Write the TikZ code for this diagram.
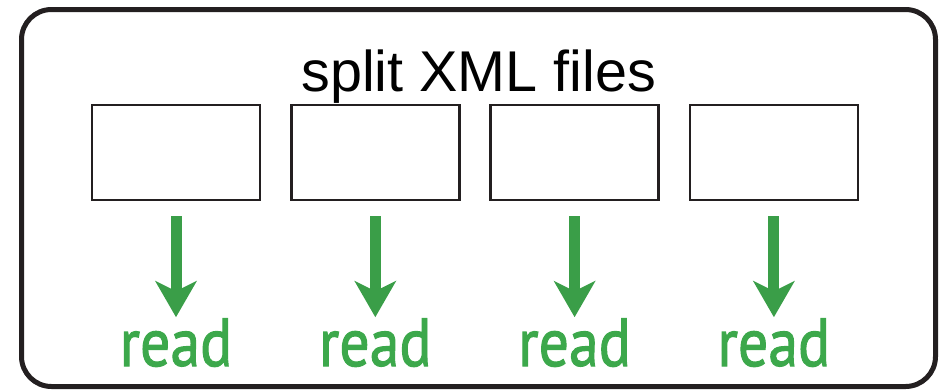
\documentclass[tikz,border=0pt]{standalone}
\usepackage{fontspec}
\usepackage{graphicx}
\usepackage{tikz}
\usetikzlibrary{arrows.meta}
\usetikzlibrary{positioning}
\setmainfont{Liberation Sans}
\newfontfamily\readfont[FakeBold=1.6]{PT Sans}
\definecolor{readgreen}{RGB}{58,158,72}
\definecolor{textgreen}{RGB}{60,168,75}
\definecolor{framegray}{RGB}{35,31,32}
\tikzset{
    frame/.style={
        draw=framegray,
        line width=5pt,
        rounded corners=30pt,
        minimum width=914pt,
        minimum height=377pt,
        inner sep=0pt
    },
    filebox/.style={
        draw=framegray,
        line width=2.5pt,
        minimum width=168pt,
        minimum height=95pt,
        inner sep=0pt
    }
}

\begin{document}
\begin{tikzpicture}[x=1pt,y=-1pt]
  \tikzset{
    title/.style={
      anchor=base,
      inner sep=0pt,
      font=\fontsize{57.5}{62}\selectfont
    },
    readlabel/.style={
      anchor=base,
      inner sep=0pt,
      text=textgreen,
      font=\readfont\fontsize{68}{72}\selectfont
    },
    flow/.style={
      draw=readgreen,
      line width=11pt,
      -{Stealth[length=36pt, width=41pt, inset=10pt]},
      shorten <=15pt,
      shorten >=1pt
    }
  }
  \useasboundingbox (0,0) rectangle (944,389);

  % Outer frame
  \node[frame] (frame) at (478.5,198) {};
  \node[title] (title) at (478.7,91.7) {split XML files};

  % Files and read arrows
  \foreach \i in {1,...,4} {
    \node[filebox] (f\i) at ({176+199.3*(\i-1)},152.5) {};
    \node[readlabel] (r\i) at ({176+199.3*(\i-1)},366) {\scalebox{0.88}[1]{read}};
    \draw[flow] (f\i.south) -- (r\i.north);
  }
\end{tikzpicture}
\end{document}
